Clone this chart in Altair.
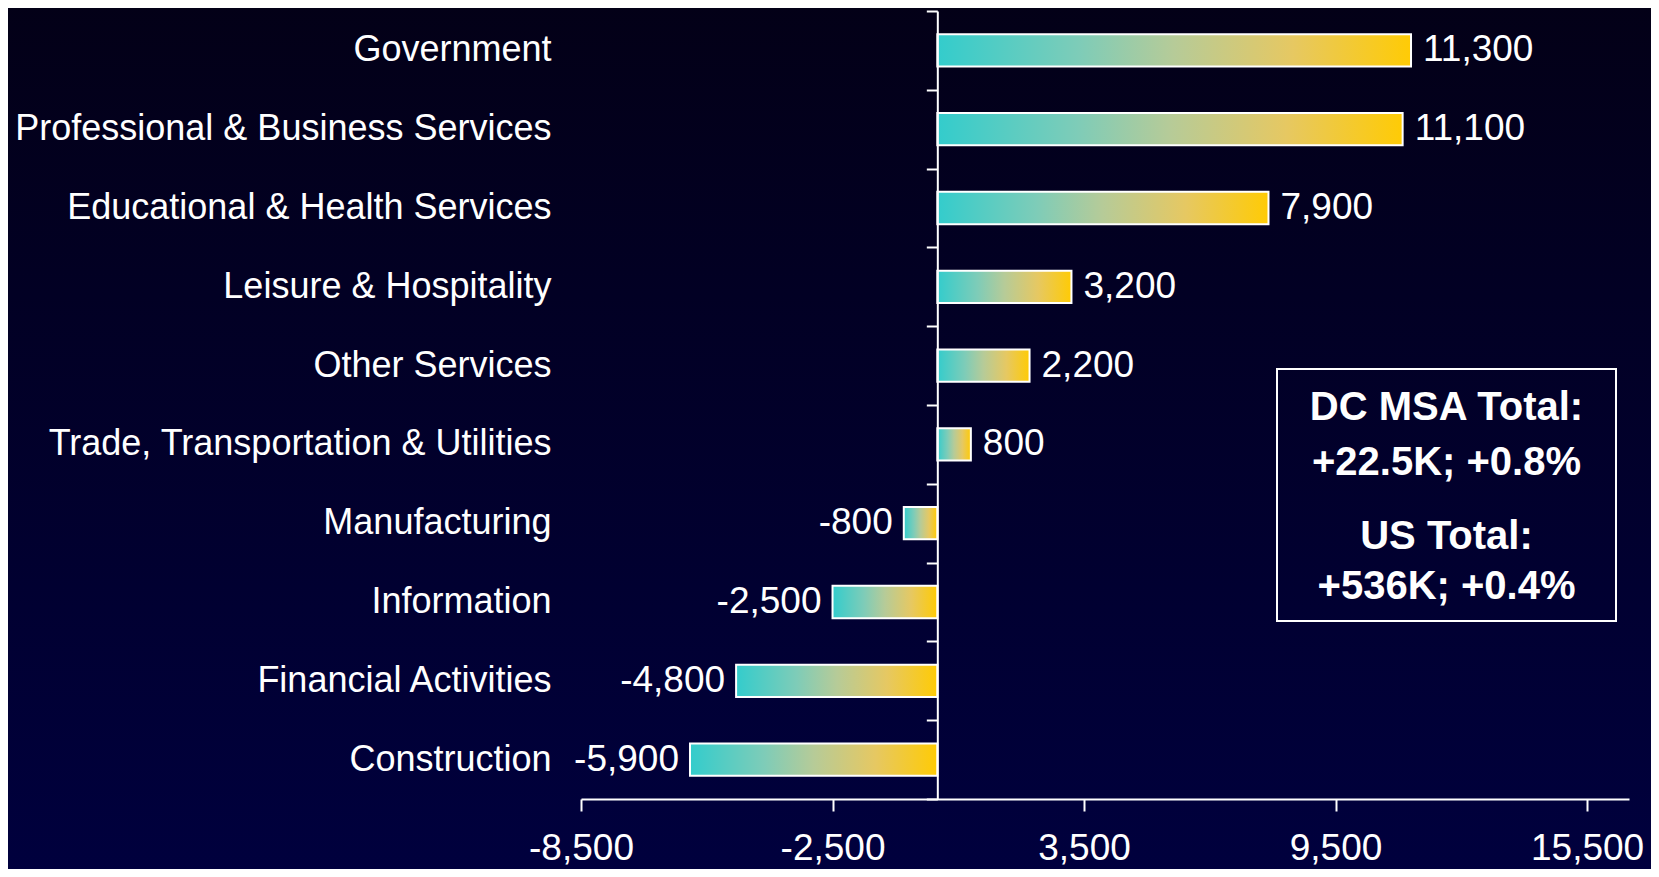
import altair as alt
import pandas as pd

# ---------------- data ----------------
categories = [
    "Government",
    "Professional & Business Services",
    "Educational & Health Services",
    "Leisure & Hospitality",
    "Other Services",
    "Trade, Transportation & Utilities",
    "Manufacturing",
    "Information",
    "Financial Activities",
    "Construction",
]
values = [11300, 11100, 7900, 3200, 2200, 800, -800, -2500, -4800, -5900]
x_ticks = [-8500, -2500, 3500, 9500, 15500]
x_domain = [-8500, 16500]
box_block1 = ["DC MSA Total:", "+22.5K; +0.8%"]
box_block2 = ["US Total:", "+536K; +0.4%"]

# ---------------- layout ----------------
W, H = 1048, 788
PAD = {"left": 573, "top": 3, "right": 22, "bottom": 70}
zero_px = (0 - x_domain[0]) / (x_domain[1] - x_domain[0]) * W

FONT = "Liberation Sans"
WHITE = "#ffffff"
FMT = "replace(format(datum.value, ','), '\u2212', '-')"

df = pd.DataFrame({"category": categories, "value": values})
one = pd.DataFrame({"a": [0]})

bar_grad = alt.LinearGradient(
    gradient="linear", x1=0, x2=1, y1=0, y2=0,
    stops=[
        alt.GradientStop(color="#33CCCC", offset=0),
        alt.GradientStop(color="#7ECCB8", offset=0.3),
        alt.GradientStop(color="#B6CB98", offset=0.5),
        alt.GradientStop(color="#E6C862", offset=0.75),
        alt.GradientStop(color="#FFCB05", offset=1),
    ],
)
bg_grad = alt.LinearGradient(
    gradient="linear", x1=0, x2=0, y1=0, y2=1,
    stops=[
        alt.GradientStop(color="#030016", offset=0),
        alt.GradientStop(color="#00003F", offset=1),
    ],
)

yscale = alt.Scale(domain=categories, paddingInner=0, paddingOuter=0)
xscale = alt.Scale(domain=x_domain, nice=False, zero=False)

bg = alt.Chart(one).mark_rect(fill=bg_grad, stroke=None).encode(
    x=alt.value(-600), x2=alt.value(W + 100),
    y=alt.value(-30), y2=alt.value(H + 100),
)

bars = alt.Chart(df).mark_bar(
    fill=bar_grad, stroke=WHITE, strokeWidth=2, height={"band": 0.41}
).encode(
    y=alt.Y("category:N", scale=yscale, sort=None, title=None,
            axis=alt.Axis(orient="left", domain=False, ticks=False,
                          labelPadding=30, labelFont=FONT, labelFontSize=36,
                          labelColor=WHITE, labelLimit=0, zindex=1)),
    x=alt.X("value:Q", scale=xscale, title=None,
            axis=alt.Axis(values=x_ticks, labelExpr=FMT, labelFont=FONT,
                          labelFontSize=37, labelColor=WHITE, labelPadding=19,
                          labelFlush=False, labelOverlap=False,
                          domainColor=WHITE, domainWidth=2,
                          tickColor=WHITE, tickWidth=2, tickSize=12,
                          grid=False, zindex=1)),
)

zero_axis = alt.Chart(df).mark_point(opacity=0, size=0).encode(
    y=alt.Y("category:N", scale=yscale, sort=None, title=None,
            axis=alt.Axis(orient="left", offset=-zero_px, labels=False,
                          domain=True, domainColor=WHITE, domainWidth=2,
                          ticks=True, tickColor=WHITE, tickWidth=2,
                          tickSize=11, tickBand="extent", zindex=1)),
    x=alt.X("value:Q", scale=xscale, axis=None),
)

pos_labels = alt.Chart(df).transform_filter("datum.value >= 0").transform_calculate(
    label=FMT
).mark_text(
    align="left", baseline="middle", dx=12, font=FONT, fontSize=37, color=WHITE
).encode(
    y=alt.Y("category:N", scale=yscale, sort=None, axis=None),
    x=alt.X("value:Q", scale=xscale, axis=None),
    text="label:N",
)

neg_labels = alt.Chart(df).transform_filter("datum.value < 0").transform_calculate(
    label=FMT
).mark_text(
    align="right", baseline="middle", dx=-11, font=FONT, fontSize=37, color=WHITE
).encode(
    y=alt.Y("category:N", scale=yscale, sort=None, axis=None),
    x=alt.X("value:Q", scale=xscale, axis=None),
    text="label:N",
)

box = alt.Chart(one).mark_rect(filled=False, stroke=WHITE, strokeWidth=2).encode(
    x=alt.value(696), x2=alt.value(1035), y=alt.value(358), y2=alt.value(610),
)

txt1 = alt.Chart(one).mark_text(
    text=box_block1, align="center", baseline="middle", font=FONT,
    fontSize=40, fontWeight="bold", color=WHITE, lineHeight=55,
).encode(x=alt.value(865.5), y=alt.value(397))

txt2 = alt.Chart(one).mark_text(
    text=box_block2, align="center", baseline="middle", font=FONT,
    fontSize=40, fontWeight="bold", color=WHITE, lineHeight=50,
).encode(x=alt.value(865.5), y=alt.value(526))

chart = alt.layer(
    bg, bars, zero_axis, pos_labels, neg_labels, box, txt1, txt2
).resolve_axis(y="independent", x="independent").properties(
    width=W, height=H, padding=PAD, autosize="none", background="#010028"
).configure_view(stroke=None)

chart.save("out.html", embed_options={"renderer": "svg", "actions": False})
